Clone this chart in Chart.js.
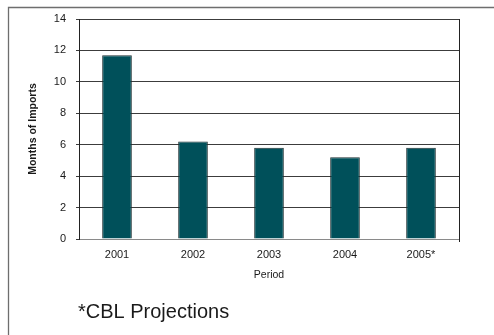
<!DOCTYPE html>
<html>
<head>
<meta charset="utf-8">
<title>Months of Imports</title>
<script src="https://cdn.jsdelivr.net/npm/chart.js@4/dist/chart.umd.min.js"></script>
<style>
  html, body { margin: 0; padding: 0; background: #fff; }
  #wrap { width: 494px; height: 335px; position: relative; }
</style>
</head>
<body>
<div id="wrap"><canvas id="chart" width="494" height="335"></canvas></div>
<script>
// Reserve cover, in months of imports, by period
const periods = ['2001', '2002', '2003', '2004', '2005*'];
const monthsOfImports = [11.7, 6.2, 5.8, 5.2, 5.8];
const yTicks = [0, 2, 4, 6, 8, 10, 12, 14];
const yTitle = 'Months of Imports';
const xTitle = 'Period';
const footnote = '*CBL Projections';

const FONT = '"Liberation Sans", Arial, Helvetica, sans-serif';

// Frame around the slide area, the closing right edge of the plot and the footnote
const decorations = {
  id: 'decorations',
  beforeDraw(chart) {
    const ctx = chart.ctx;
    ctx.save();
    ctx.fillStyle = '#fff';
    ctx.fillRect(0, 0, chart.width, chart.height);
    ctx.strokeStyle = '#6e6e6e';
    ctx.lineWidth = 1.3;
    ctx.beginPath();
    ctx.moveTo(8.5, chart.height);
    ctx.lineTo(8.5, 7.5);
    ctx.lineTo(chart.width, 7.5);
    ctx.stroke();
    ctx.restore();
  },
  afterDraw(chart) {
    const ctx = chart.ctx;
    const area = chart.chartArea;
    ctx.save();
    ctx.strokeStyle = '#222';
    ctx.lineWidth = 1;
    ctx.beginPath();
    ctx.moveTo(Math.round(area.right) + 0.5, area.top);
    ctx.lineTo(Math.round(area.right) + 0.5, area.bottom + 3);
    ctx.stroke();
    ctx.fillStyle = '#1a1a1a';
    ctx.font = '20px ' + FONT;
    ctx.textBaseline = 'alphabetic';
    ctx.textAlign = 'left';
    ctx.fillText(footnote, 78, 317.5);
    ctx.restore();
  }
};

new Chart(document.getElementById('chart'), {
  type: 'bar',
  data: {
    labels: periods,
    datasets: [{
      data: monthsOfImports,
      backgroundColor: '#00505a',
      borderColor: '#1d2f32',
      borderWidth: 1,
      categoryPercentage: 1,
      barPercentage: 0.39
    }]
  },
  options: {
    responsive: false,
    animation: false,
    devicePixelRatio: 1,
    layout: { padding: { left: 0, top: 19, right: 35, bottom: 0 } },
    plugins: {
      legend: { display: false },
      tooltip: { enabled: false }
    },
    scales: {
      x: {
        type: 'category',
        grid: { display: false, drawTicks: false },
        border: { display: true, color: '#8a8a8a', width: 1 },
        ticks: {
          color: '#1a1a1a',
          font: { family: FONT, size: 11 },
          padding: 9,
          maxRotation: 0
        },
        title: {
          display: true,
          text: xTitle,
          color: '#1a1a1a',
          font: { family: FONT, size: 10.5 },
          padding: { top: 0, bottom: 54 }
        },
        afterFit(scale) { scale.height = 96; }
      },
      y: {
        min: 0,
        max: 14,
        afterBuildTicks(scale) { scale.ticks = yTicks.map(v => ({ value: v })); },
        grid: {
          color: ctx => (ctx.tick && ctx.tick.value === 0 ? '#8a8a8a' : '#3c3c3c'),
          tickColor: '#3c3c3c',
          tickLength: 3,
          lineWidth: 1
        },
        border: { display: true, color: '#222', width: 1 },
        ticks: {
          color: '#1a1a1a',
          font: { family: FONT, size: 11 },
          padding: 10
        },
        title: {
          display: true,
          text: yTitle,
          color: '#1a1a1a',
          font: { family: FONT, size: 10.5, weight: 'bold' },
          padding: { top: 27, bottom: 0 }
        },
        afterFit(scale) { scale.width = 79; }
      }
    }
  },
  plugins: [decorations]
});
</script>
</body>
</html>
